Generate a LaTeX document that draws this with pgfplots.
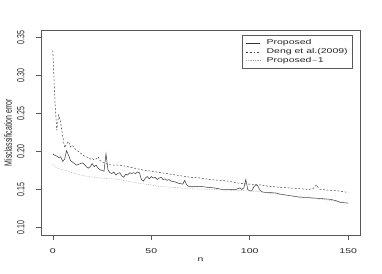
\documentclass[border=0pt]{standalone}
\usepackage{fontspec}
\setmainfont{Liberation Sans}
\newfontfamily\hfont[FakeStretch=1.5]{Liberation Sans}
\newfontfamily\vfont[FakeStretch=0.667]{Liberation Sans}
\usepackage{pgfplots}
\pgfplotsset{compat=1.18}
\definecolor{axgray}{gray}{0.35}
\begin{document}
\begin{tikzpicture}
\path[use as bounding box] (0,0) rectangle (382pt,273pt);
\begin{axis}[
  scale only axis, width=319pt, height=205pt,
  at={(41pt,38pt)}, anchor=south west,
  xmin=-6, xmax=156, ymin=0.09, ymax=0.36,
  xtick={0,50,100,150}, ytick={0.10,0.15,0.20,0.25,0.30,0.35},
  xtick pos=left, ytick pos=left,
  tick align=outside, major tick length=5pt,
  axis line style={axgray, line width=0.6pt},
  every tick/.style={axgray, line width=0.6pt},
  /pgf/number format/assume math mode=true,
  yticklabel style={/pgf/number format/fixed, /pgf/number format/fixed zerofill, /pgf/number format/precision=2},
  yticklabel style={font=\vfont\fontsize{10.5}{12}\selectfont, rotate=90, anchor=center, yshift=14pt, color=black!85},
  xticklabel style={font=\hfont\fontsize{7}{8}\selectfont, anchor=center, yshift=-12pt, color=black!85},
  typeset ticklabels with strut=false,
  xlabel={n}, ylabel={Misclassification error},
  xlabel style={font=\hfont\fontsize{7}{8}\selectfont, at={(rel axis cs:0.5,0)}, anchor=center, yshift=-25pt, color=black!85},
  ylabel style={font=\vfont\fontsize{10.5}{12}\selectfont, at={(rel axis cs:0,0.5)}, anchor=center, rotate=0, yshift=33pt, color=black!85},
  legend style={at={(0.978,0.976)}, anchor=north east, draw=axgray, line width=0.5pt, fill=white,
    font=\hfont\fontsize{7}{8}\selectfont, inner xsep=4pt, inner ysep=3.5pt, row sep=0.3pt, column sep=5pt,
    nodes={inner sep=1pt, text=black!85}},
  legend cell align=left,
  legend image code/.code={\draw[#1] (0pt,0pt) -- (14pt,0pt);},
]
\addplot[black!80, line width=0.5pt] coordinates {
(0,0.197)(1,0.195)(2,0.194)(3,0.192)(4,0.193)(5,0.187)(6,0.190)(7,0.201)(8,0.195)(9,0.188)
(10,0.186)(11,0.184)(12,0.182)(13,0.183)(14,0.184)(15,0.185)(16,0.183)(17,0.180)(18,0.178)(19,0.180)
(20,0.184)(21,0.180)(22,0.182)(23,0.178)(24,0.176)(25,0.175)(26,0.174)(27,0.197)(28,0.176)(29,0.172)
(30,0.171)(31,0.173)(32,0.169)(33,0.171)(34,0.172)(35,0.168)(36,0.166)(37,0.170)(38,0.169)(39,0.172)
(40,0.171)(41,0.172)(42,0.171)(43,0.173)(44,0.172)(45,0.163)(46,0.161)(47,0.165)(48,0.167)(49,0.164)
(50,0.167)(51,0.165)(52,0.166)(53,0.163)(54,0.165)(55,0.166)(56,0.163)(57,0.164)(58,0.162)(59,0.163)
(60,0.161)(62,0.160)(64,0.158)(66,0.157)(67,0.162)(68,0.156)(69,0.154)(72,0.154)(75,0.154)(78,0.153)
(82,0.152)(86,0.150)(90,0.150)(93,0.150)(95,0.152)(96,0.150)(97,0.152)(98,0.163)(99,0.150)(100,0.148)
(101,0.148)(102,0.153)(103,0.156)(104,0.155)(105,0.150)(106,0.147)(108,0.146)(113,0.1455)(115,0.144)(120,0.142)
(125,0.140)(131,0.139)(136,0.138)(141,0.137)(144,0.135)(146,0.133)(150,0.132)
};
\addlegendentry{Proposed}
\addplot[black!75, line width=0.5pt, dash pattern=on 1.8pt off 1.8pt] coordinates {
(0,0.333)(1,0.270)(2,0.228)(3,0.248)(4,0.238)(5,0.220)(6,0.205)(7,0.210)(8,0.213)(9,0.206)
(10,0.208)(11,0.204)(12,0.202)(13,0.200)(14,0.198)(15,0.196)(16,0.194)(17,0.193)(18,0.192)(19,0.190)
(20,0.191)(21,0.189)(22,0.190)(23,0.193)(24,0.188)(25,0.186)(26,0.185)(28,0.183)(30,0.182)(34,0.182)
(40,0.179)(45,0.176)(50,0.174)(55,0.172)(60,0.170)(65,0.168)(70,0.166)(75,0.165)(80,0.163)(85,0.162)
(89,0.161)(95,0.158)(100,0.157)(105,0.156)(110,0.154)(115,0.153)(120,0.152)(125,0.151)(130,0.150)(132,0.151)
(134,0.156)(135,0.151)(136,0.150)(140,0.149)(145,0.148)(150,0.146)
};
\addlegendentry{Deng et al.(2009)}
\addplot[black!35, line width=0.5pt, dash pattern=on 0.7pt off 1pt] coordinates {
(0,0.183)(1,0.180)(3,0.177)(5,0.176)(8,0.174)(11,0.171)(14,0.169)(18,0.167)(24,0.165)(30,0.164)
(34,0.163)(40,0.160)(44,0.158)(50,0.156)(54,0.154)(60,0.153)(65,0.152)(70,0.151)(80,0.150)(90,0.149)
(100,0.148)(105,0.147)(110,0.145)(120,0.142)(130,0.139)(140,0.136)(150,0.132)
};
\addlegendentry{Proposed$-$1}
\end{axis}
\end{tikzpicture}
\end{document}
